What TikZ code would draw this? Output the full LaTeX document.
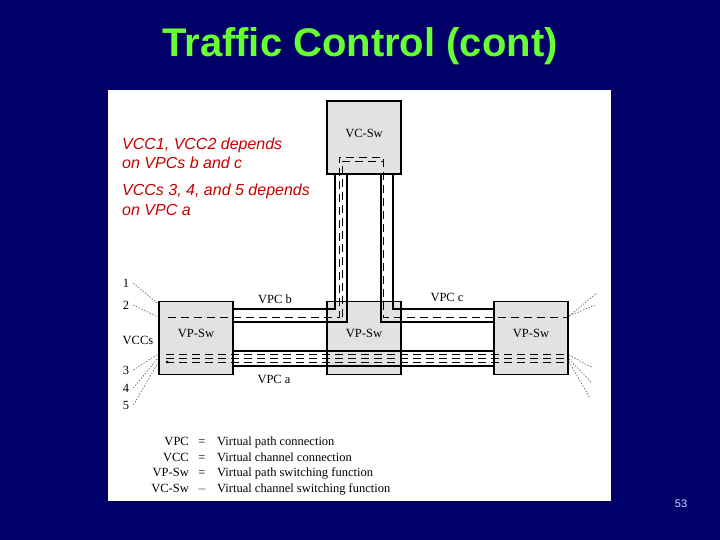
\documentclass[tikz,border=0pt]{standalone}
\usepackage{fontspec}
\setmainfont{Liberation Serif}
\setsansfont{Liberation Sans}
\usetikzlibrary{positioning}
\definecolor{slidebg}{RGB}{0,0,104}
\definecolor{titlegreen}{RGB}{102,255,51}
\definecolor{notered}{RGB}{200,0,0}
\definecolor{boxgray}{RGB}{226,226,226}
\definecolor{pagenum}{RGB}{200,220,255}

\tikzset{
  swbox/.style={draw=black, line width=1.4pt, fill=boxgray,
    minimum width=74pt, minimum height=73pt, inner sep=0pt},
  lbl/.style={font=\fontsize{12.5}{15}\selectfont, inner sep=0pt},
  note/.style={font=\sffamily\itshape\fontsize{16}{19}\selectfont,
    text=notered, align=left, anchor=base west, inner sep=0pt},
  tube/.style={line width=2.8pt},
  vcc/.style={line width=0.9pt, dash pattern=on 8pt off 5pt},
  lead/.style={line width=0.5pt, dash pattern=on 1.5pt off 1.5pt, black!70},
}

\begin{document}
\begin{tikzpicture}[x=1pt,y=-1pt]

        % Slide
        \fill[slidebg] (0,0) rectangle (720,540);
        \fill[white] (108,90) rectangle (611,501);
        \node[font=\sffamily\bfseries\fontsize{40}{46}\selectfont, text=titlegreen]
            (title) at (360,46) {Traffic Control (cont)};
        \node[font=\sffamily\fontsize{11}{13}\selectfont, text=pagenum]
            (pageno) at (681,504) {53};

        % Notes
        \node[note] (noteb) at (122,169) {VCC1, VCC2 depends\\on VPCs b and c};
        \node[note] (notea) at (122,215) {VCCs 3, 4, and 5 depends\\[1pt]on VPC a};

        % Switches
        \node[swbox] (vcsw) at (364,137.5) {};
        \node[swbox] (vpl) at (196,338) {};
        \node[swbox] (vpm) at (364,338) {};
        \node[swbox] (vpr) at (531,338) {};
        \node[lbl] at ([yshift=4pt]vcsw.center) {VC-Sw};
        \foreach \sw in {vpl,vpm,vpr}
            \node[lbl] at ([yshift=5pt]\sw.center) {VP-Sw};

        % VPC b and VPC c
        \draw[tube] (233,309) -- (335,309) -- (335,174);
        \draw[tube] (233,322) -- (347,322) -- (347,174);
        \draw[tube] (494,322) -- (381,322) -- (381,174);
        \draw[tube] (494,309) -- (393,309) -- (393,174);

        % VPC a
        \draw[tube] (233,351) -- (494,351);
        \draw[tube] (233,366) -- (494,366);

        % Channels
        \draw[vcc] (168,317) -- (339,317) -- (339,157) -- (383,157)
            -- (383,317) -- (568,317);
        \draw[vcc] (342,317) -- (342,161) -- (383,161);
        \foreach \y in {354,358,362}
            \draw[vcc] (166,\y) -- (568,\y);
        \fill (167,362) circle (1.5pt);

        % Channel labels
        \node[lbl] (n1) at (126,283) {1};
        \node[lbl] (n2) at (126,305) {2};
        \node[lbl] (vccs) at (138,340) {VCCs};
        \node[lbl] (n3) at (126,370) {3};
        \node[lbl] (n4) at (126,388) {4};
        \node[lbl] (n5) at (126,405) {5};
        \draw[lead] ([xshift=4pt]n1.east) -- (157,303);
        \draw[lead] ([xshift=4pt]n2.east) -- (158,317);
        \draw[lead] ([xshift=4pt]n3.east) -- (158,354);
        \draw[lead] ([xshift=4pt]n4.east) -- (158,358);
        \draw[lead] ([xshift=4pt]n5.east) -- (158,363);
        \draw[lead] (569,316) -- (597,293);
        \draw[lead] (569,316) -- (595,305);
        \draw[lead] (569,355) -- (593,368);
        \draw[lead] (569,359) -- (592,383);
        \draw[lead] (569,362) -- (590,398);

        % Path labels
        \node[lbl] (vpcb) at (275,299) {VPC b};
        \node[lbl] (vpcc) at (447,297) {VPC c};
        \node[lbl] (vpca) at (274,379) {VPC a};

        % Legend
        \foreach \abbr/\sym/\desc [count=\i] in {VPC/=/Virtual path connection,
            VCC/=/Virtual channel connection,
            VP-Sw/=/Virtual path switching function,
            VC-Sw/$-$/Virtual channel switching function}
        {
            \node[lbl, anchor=base east] (abbr\i) at (189,430+15.5*\i) {\abbr};
            \node[lbl, anchor=base] (eq\i) at (202,430+15.5*\i) {\sym};
            \node[lbl, anchor=base west] (desc\i) at (217,430+15.5*\i) {\desc};
        }

    \end{tikzpicture}
\end{document}
